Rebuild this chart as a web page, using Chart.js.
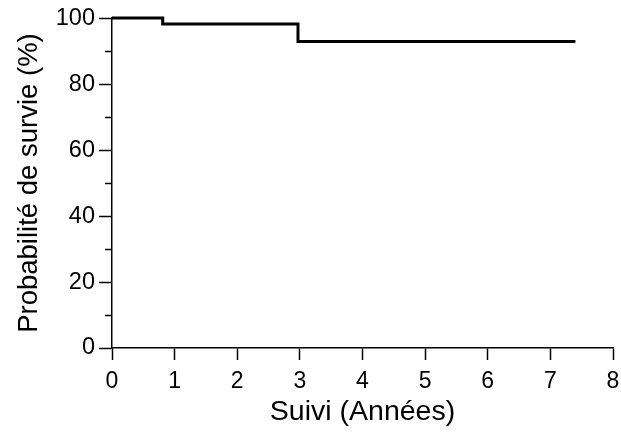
<!DOCTYPE html>
<html>
<head>
<meta charset="utf-8">
<script src="https://cdn.jsdelivr.net/npm/chart.js@4"></script>
<style>
  html, body { margin: 0; padding: 0; background: #fff; }
  #wrap { width: 621px; height: 434px; }
</style>
</head>
<body>
<div id="wrap"><canvas id="survieChart" width="621" height="434"></canvas></div>
<script>
// Kaplan-Meier step points (years, % survival)
const times = [0, 0.81, 2.97, 7.4];
const survival = [100, 98.2, 92.9, 92.9];

const xTicks = [0, 1, 2, 3, 4, 5, 6, 7, 8];
const yMajorTicks = [0, 20, 40, 60, 80, 100];
const yMinorTicks = [10, 30, 50, 70, 90];

const xTitle = 'Suivi (Années)';
const yTitle = 'Probabilité de survie (%)';

const fontFamily = '"Liberation Sans", Arial, sans-serif';

// small ticks on the left of the y axis (between the labelled ones)
const minorTicks = {
    id: 'minorTicks',
    afterDraw(chart) {
        const ctx = chart.ctx;
        const y = chart.scales.y;
        ctx.save();
        ctx.strokeStyle = '#000';
        ctx.lineWidth = 1.5;
        yMinorTicks.forEach(v => {
            const py = Math.round(y.getPixelForValue(v)) + 0.5;
            ctx.beginPath();
            ctx.moveTo(y.right - 7, py);
            ctx.lineTo(y.right, py);
            ctx.stroke();
        });
        ctx.restore();
    }
};

const ctx = document.getElementById('survieChart').getContext('2d');
new Chart(ctx, {
    type: 'line',
    data: {
        datasets: [{
            data: times.map((t, i) => ({ x: t, y: survival[i] })),
            stepped: 'before',
            borderColor: '#000',
            borderWidth: 3,
            pointRadius: 0,
            fill: false,
            clip: false
        }]
    },
    options: {
        responsive: false,
        animation: false,
        layout: { padding: { left: 0, right: 8, top: 18, bottom: 0 } },
        plugins: {
            legend: { display: false },
            tooltip: { enabled: false }
        },
        scales: {
            x: {
                type: 'linear',
                min: 0,
                max: 8,
                afterBuildTicks: scale => { scale.ticks = xTicks.map(v => ({ value: v })); },
                afterFit: scale => {
                    scale.height = 86;
                    scale.paddingRight = 0;
                    scale.paddingLeft = 0;
                },
                grid: {
                    drawOnChartArea: false,
                    tickLength: 12,
                    tickColor: '#000',
                    tickWidth: 1.5
                },
                border: { display: true, color: '#000', width: 1.5 },
                ticks: {
                    color: '#000',
                    padding: 8,
                    maxRotation: 0,
                    font: { family: fontFamily, size: 23 }
                },
                title: {
                    display: true,
                    text: xTitle,
                    color: '#000',
                    font: { family: fontFamily, size: 28.5 },
                    padding: { top: 0, bottom: 5 }
                }
            },
            y: {
                type: 'linear',
                min: 0,
                max: 100,
                afterBuildTicks: scale => { scale.ticks = yMajorTicks.map(v => ({ value: v })); },
                afterFit: scale => { scale.width = 112; },
                grid: {
                    drawOnChartArea: false,
                    tickLength: 13,
                    tickColor: '#000',
                    tickWidth: 1.5
                },
                border: { display: true, color: '#000', width: 1.5 },
                ticks: {
                    color: '#000',
                    padding: 4,
                    font: { family: fontFamily, size: 23.5 }
                },
                title: {
                    display: true,
                    text: yTitle,
                    color: '#000',
                    font: { family: fontFamily, size: 27.5 },
                    padding: { top: 13, bottom: 0 }
                }
            }
        }
    },
    plugins: [minorTicks]
});
</script>
</body>
</html>
